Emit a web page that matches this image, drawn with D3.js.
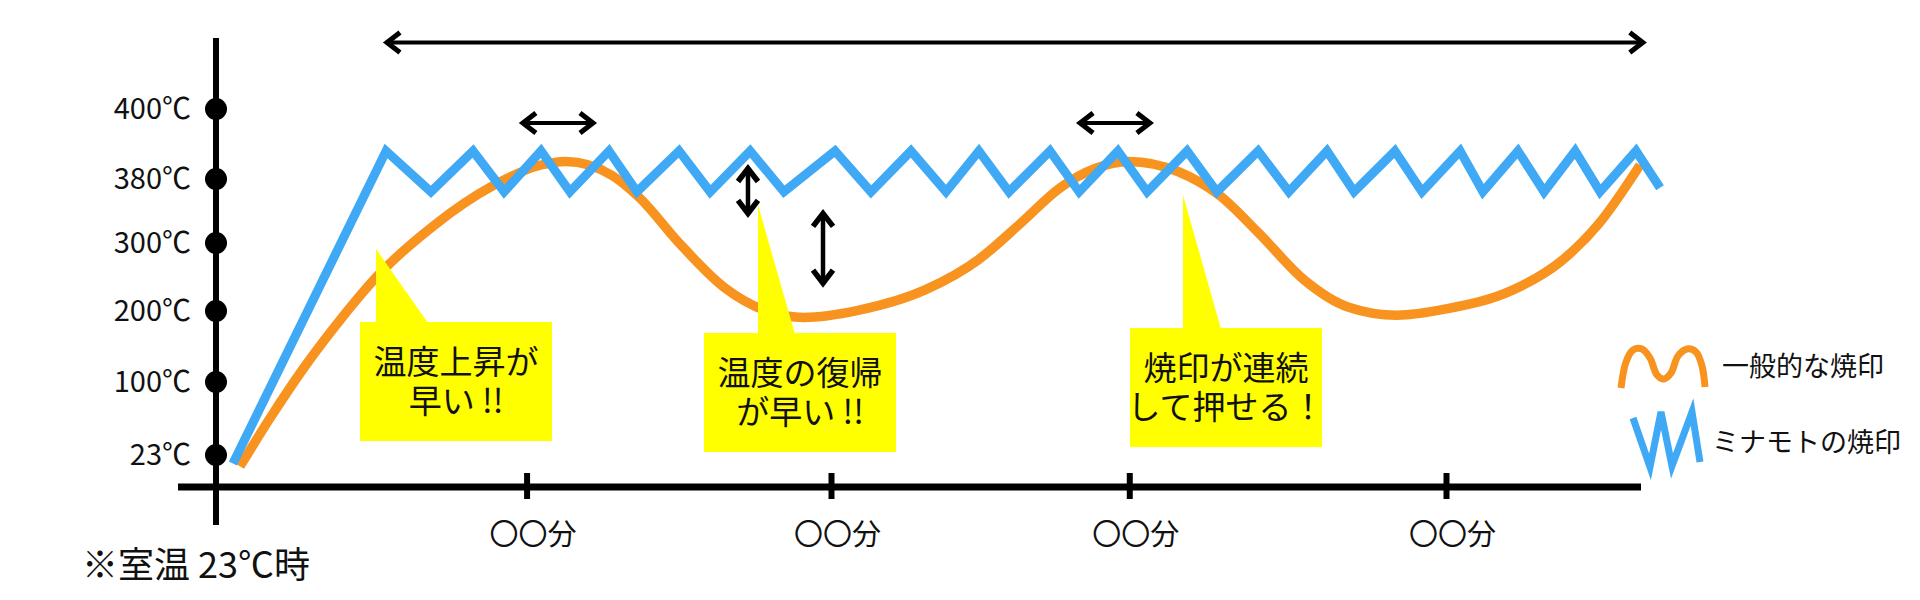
<!DOCTYPE html>
<html>
<head>
<meta charset="utf-8">
<script src="https://cdn.jsdelivr.net/npm/d3@7"></script>
<style>
  body { margin: 0; background: #fff; }
  svg text { font-family: "Noto Sans CJK JP", "Noto Sans", sans-serif; }
</style>
</head>
<body>
<div id="chart"></div>
<script>
// y axis: temperature marks (the axis is not linear in the original, so the scale is piecewise)
const tempTicks = [23, 100, 200, 300, 380, 400];
// x axis: tick positions in minutes, labels left as placeholders like in the original
const timeTicks = [10.1, 20, 29.7, 40];
const timeTickLabel = "〇〇分";

// general branding iron (orange)
const generalMinutes = [0.78, 1.76, 2.89, 4.03, 5.24, 7.09, 8.98, 10.57, 11.38, 12.88, 13.76, 15.06, 16.52,
  17.98, 19.12, 20.88, 23.06, 24.81, 26.15, 27.45, 28.59, 29.69, 31.32, 32.62, 33.92, 35.38, 36.81,
  38.41, 40.0, 42.18, 43.71, 45.01, 46.31];
const generalTemps = [11, 62, 122, 187, 251, 322, 371, 384, 385, 381, 357, 300, 235,
  199, 191, 201, 231, 276, 324, 369, 383, 385, 382, 360, 312, 246, 206,
  194, 203, 231, 272, 326, 384];

// Minamoto branding iron (blue zigzag)
const minamotoMinutes = [0.55, 5.53, 6.99, 8.36, 9.37, 10.57, 11.51, 12.78, 13.69, 15.06, 16.07, 17.37,
  18.47, 20.13, 21.3, 22.6, 23.74, 24.81, 25.79, 27.12, 28.07, 29.33, 30.28, 31.58, 32.55, 33.89,
  34.89, 36.13, 37.01, 38.34, 39.22, 40.46, 41.2, 42.34, 43.19, 44.2, 45.01, 46.18, 46.96];
const minamotoTemps = [14, 388, 364, 388, 364, 388, 364, 388, 364, 388, 364, 388,
  364, 388, 364, 388, 364, 388, 364, 388, 364, 388, 364, 388, 364, 388,
  364, 388, 364, 388, 364, 388, 364, 388, 364, 388, 364, 388, 369];

const seriesNames = ["一般的な焼印", "ミナモトの焼印"];
const seriesColors = ["#F7931E", "#3FA9F5"];

// arrows: [fromMinute, fromTemp, toMinute, toTemp]
const spanArrow = [5.56, 419, 46.4, 419];
const cycleArrows = [[9.98, 396, 12.26, 396], [28.1, 396, 30.37, 396]];
const gapArrows = [[17.3, 383, 17.3, 337], [19.74, 337, 19.74, 241]];

const calloutLines = [["温度上昇が", "早い !!"], ["温度の復帰", "が早い !!"], ["焼印が連続", "して押せる！"]];
const noteText = "※室温 23℃時";

const width = 1920, height = 600;

const svg = d3.select("#chart")
  .append("svg")
  .attr("width", width)
  .attr("height", height)
  .style("background-color", "white");

// scales
const xScale = d3.scaleLinear().domain([0, 40]).range([216, 1446]);
const yScale = d3.scaleLinear().domain(tempTicks).range([455, 382, 311, 243, 179, 109]);

// y axis line
svg.append("line")
  .attr("x1", 216).attr("x2", 216)
  .attr("y1", 38).attr("y2", 525)
  .attr("stroke", "#000").attr("stroke-width", 6);

// x axis line
svg.append("line")
  .attr("x1", 178).attr("x2", 1641)
  .attr("y1", 487).attr("y2", 487)
  .attr("stroke", "#000").attr("stroke-width", 7);

// y labels
let yAxis = svg.append("g")
  .attr("transform", "translate(216,0)")
  .call(d3.axisLeft(yScale).tickValues(tempTicks).tickSize(0).tickPadding(25).tickFormat(d => d + "℃"));
yAxis.select(".domain").remove();
yAxis.selectAll("text")
  .attr("font-family", "'Noto Sans CJK JP', sans-serif")
  .attr("font-size", 29)
  .attr("fill", "#111");

// dots on the y axis
svg.append("g").selectAll("circle")
  .data(tempTicks)
  .join("circle")
  .attr("cx", 216)
  .attr("cy", d => yScale(d))
  .attr("r", 11)
  .attr("fill", "#000");

// x ticks
let xAxis = svg.append("g")
  .attr("transform", "translate(0,473)")
  .call(d3.axisBottom(xScale).tickValues(timeTicks).tickSizeInner(26).tickSizeOuter(0).tickFormat(() => timeTickLabel));
xAxis.select(".domain").remove();
xAxis.selectAll("line").attr("stroke", "#000").attr("stroke-width", 6);
xAxis.selectAll("text")
  .attr("font-family", "'Noto Sans CJK JP', sans-serif")
  .attr("font-size", 29)
  .attr("fill", "#111")
  .attr("x", 6)
  .attr("y", 62)
  .attr("dy", "0.35em");

// lines
const general = generalMinutes.map((m, i) => ({m: m, t: generalTemps[i]}));
const minamoto = minamotoMinutes.map((m, i) => ({m: m, t: minamotoTemps[i]}));

svg.append("path")
  .datum(general)
  .attr("fill", "none")
  .attr("stroke", seriesColors[0])
  .attr("stroke-width", 9.5)
  .attr("d", d3.line().curve(d3.curveMonotoneX)
    .x(d => xScale(d.m))
    .y(d => yScale(d.t)));

// callouts (yellow speech boxes) - layout in px
const calloutBoxes = [
  {x0: 360, x1: 552, y0: 322, y1: 441, px: 376, tipY: 249, bx: 428},
  {x0: 704, x1: 896, y0: 333, y1: 452, px: 758, tipY: 205, bx: 795},
  {x0: 1130, x1: 1322, y0: 328, y1: 447, px: 1183, tipY: 195, bx: 1221}
];
let callouts = svg.append("g").attr("class", "callouts");

calloutBoxes.forEach(function(b, i) {
  callouts.append("path")
    .attr("d", "M" + b.px + "," + b.tipY + "L" + b.bx + "," + (b.y0 + 1) + "L" + b.px + "," + (b.y0 + 1) + "Z")
    .attr("fill", "#FFFF00");
  callouts.append("rect")
    .attr("x", b.x0).attr("y", b.y0)
    .attr("width", b.x1 - b.x0).attr("height", b.y1 - b.y0)
    .attr("fill", "#FFFF00");
  let mid = (b.y0 + b.y1) / 2;
  let cx = (b.x0 + b.x1) / 2;
  // one text element, one tspan per line
  callouts.append("text")
    .attr("text-anchor", "middle")
    .attr("font-size", 33)
    .attr("fill", "#111")
    .selectAll("tspan")
    .data(calloutLines[i])
    .join("tspan")
    .attr("x", cx)
    .attr("y", (d, j) => mid + (j - 0.5) * 39)
    .attr("dy", "0.35em")
    .text(d => d);
});

svg.append("path")
  .datum(minamoto)
  .attr("fill", "none")
  .attr("stroke", seriesColors[1])
  .attr("stroke-width", 9)
  .attr("stroke-linejoin", "miter")
  .attr("stroke-miterlimit", 10)
  .attr("d", d3.line()
    .x(d => xScale(d.m))
    .y(d => yScale(d.t)));

// arrows
function arrowHead(g, x, y, angle, sw) {
  g.append("path")
    .attr("d", "M-13,-10L0,0L-13,10")
    .attr("transform", "translate(" + x + "," + y + ") rotate(" + angle + ")")
    .attr("fill", "none")
    .attr("stroke", "#000")
    .attr("stroke-width", sw)
    .attr("stroke-linejoin", "miter");
}

function doubleArrow(a, sw) {
  let g = svg.append("g");
  let x1 = xScale(a[0]), y1 = yScale(a[1]), x2 = xScale(a[2]), y2 = yScale(a[3]);
  g.append("line")
    .attr("x1", x1).attr("y1", y1)
    .attr("x2", x2).attr("y2", y2)
    .attr("stroke", "#000")
    .attr("stroke-width", sw);
  let ang = Math.atan2(y2 - y1, x2 - x1) * 180 / Math.PI;
  arrowHead(g, x2, y2, ang, sw + 1);
  arrowHead(g, x1, y1, ang + 180, sw + 1);
}

doubleArrow(spanArrow, 4);
cycleArrows.forEach(a => doubleArrow(a, 4));
gapArrows.forEach(a => doubleArrow(a, 4.5));

// legend
let legend = svg.append("g").attr("class", "legend");
const orangeSwatch = [[1621, 388], [1626, 362], [1633, 350], [1642, 349], [1650, 358], [1657, 375], [1664, 379],
  [1671, 373], [1678, 356], [1687, 349], [1696, 352], [1702, 366], [1705, 387]];
const blueSwatch = [[1633, 418], [1650, 467], [1661, 412], [1672, 466], [1692, 412], [1700, 462]];

legend.append("path")
  .attr("d", d3.line().curve(d3.curveCatmullRom)(orangeSwatch))
  .attr("fill", "none")
  .attr("stroke", seriesColors[0])
  .attr("stroke-width", 7);
legend.append("path")
  .attr("d", d3.line()(blueSwatch))
  .attr("fill", "none")
  .attr("stroke", seriesColors[1])
  .attr("stroke-width", 7)
  .attr("stroke-linejoin", "miter");
legend.selectAll("text")
  .data(seriesNames)
  .join("text")
  .attr("x", (d, i) => i === 0 ? 1722 : 1712)
  .attr("y", (d, i) => i === 0 ? 367 : 443)
  .attr("dy", "0.35em")
  .attr("font-size", 27)
  .attr("fill", "#111")
  .text(d => d);

// note under the axis
svg.append("text")
  .attr("x", 82)
  .attr("y", 565)
  .attr("dy", "0.35em")
  .attr("font-size", 36)
  .attr("fill", "#111")
  .text(noteText);
</script>
</body>
</html>
